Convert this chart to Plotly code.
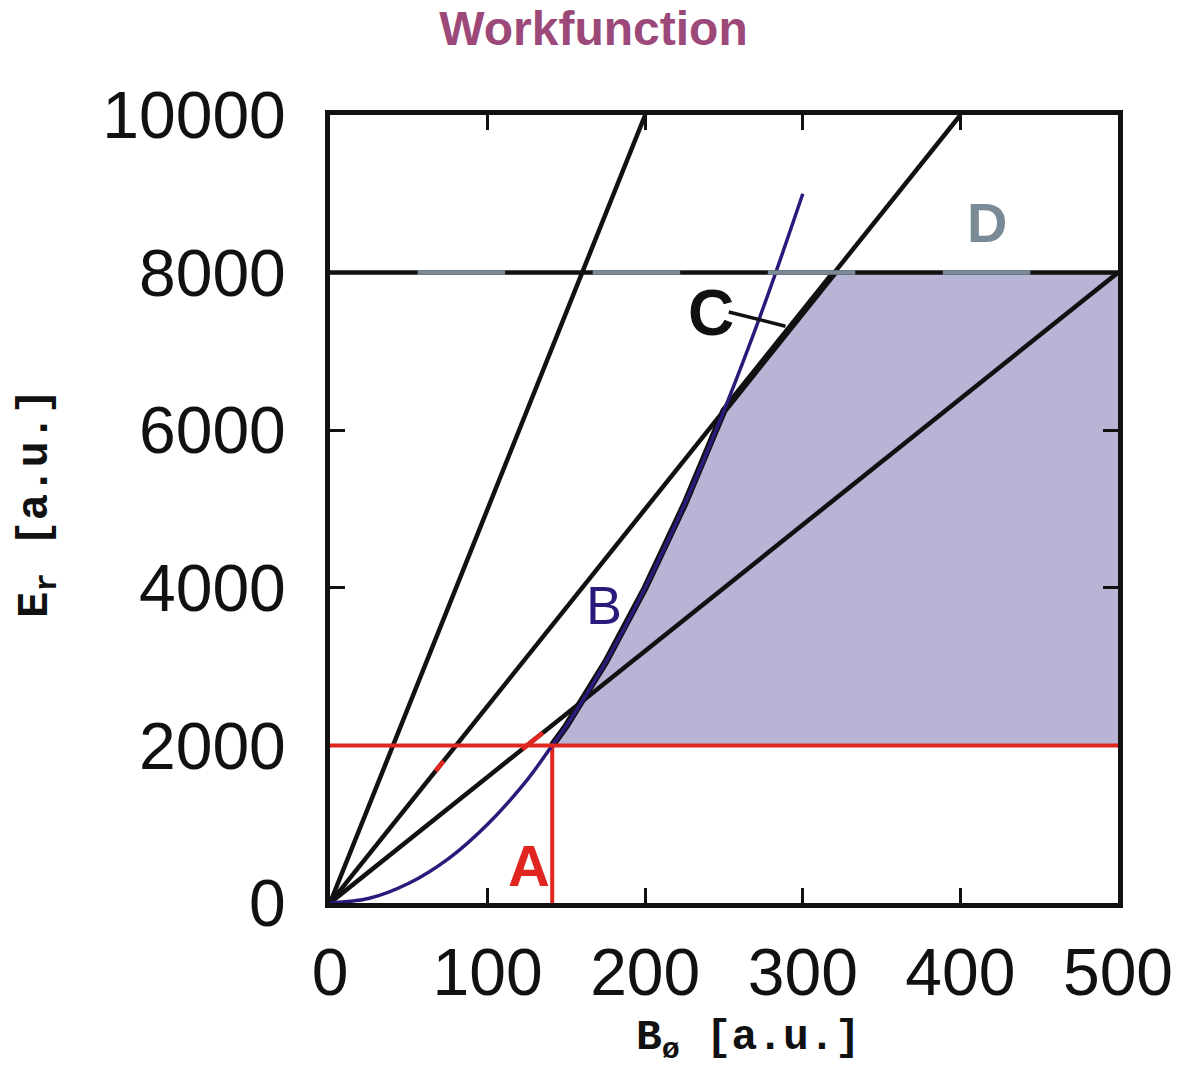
import plotly.graph_objects as go

# ---- data -------------------------------------------------------------
# straight lines through the origin, given by their end points
steep_B = [0, 200]
steep_E = [0, 10000]
mid_B = [0, 400]
mid_E = [0, 10000]
shallow_B = [0, 500]
shallow_E = [0, 8000]

# curve B
curve_B = [0, 25, 50, 75, 100, 125, 141, 150, 175, 200, 225, 250, 275, 300]
curve_E = [0, 60, 250, 560, 1000, 1560, 2000, 2250, 3060, 4000, 5060, 6250, 7560, 9000]

# limits
E_low = 2000          # line A (horizontal)
B_low = 141           # line A (vertical)
E_high = 8000         # line D
B_max = 500
B_mid_top = 320       # where the mid line meets line D

# gray pieces of line D
D_gray_start = [55.6, 166.7, 277.8, 388.9]
D_gray_end = [111.1, 222.2, 333.3, 444.4]

# small red pieces on the lines near line A
red_mark1_B = [67, 72]
red_mark1_E = [1675, 1800]
red_mark2_B = [122, 135]
red_mark2_E = [1950, 2160]

# label positions
labels = {
    "A": (126, 480),
    "B": (174, 3780),
    "C": (242, 7490),
    "D": (417, 8640),
}
C_pointer_B = [253, 289]
C_pointer_E = [7500, 7320]

x_ticks = [0, 100, 200, 300, 400, 500]
y_ticks = [0, 2000, 4000, 6000, 8000, 10000]

# ---- colours ----------------------------------------------------------
FILL = "#b8b4d6"
NAVY = "#2b1a7a"
RED = "#e0261f"
GRAY = "#7a8b97"
BLACK = "#111111"
TITLE = "#9c4878"
LW = 4.5

fig = go.Figure()

# shaded region: above line A, right of curve B, below the mid line and line D
idx = [i for i, b in enumerate(curve_B) if B_low <= b <= 250]
bnd_B = [curve_B[i] for i in idx] + [B_mid_top]
bnd_E = [curve_E[i] for i in idx] + [E_high]
poly_B = bnd_B + [B_max, B_max, B_low]
poly_E = bnd_E + [E_high, E_low, E_low]
fig.add_trace(go.Scatter(x=poly_B, y=poly_E, mode="lines", fill="toself",
                         fillcolor=FILL, line=dict(width=0), hoverinfo="skip"))

# line A (vertical part)
fig.add_trace(go.Scatter(x=[B_low, B_low], y=[0, E_low], mode="lines",
                         line=dict(color=RED, width=4)))

# straight lines
for bx, ey in [(steep_B, steep_E), (mid_B, mid_E), (shallow_B, shallow_E)]:
    fig.add_trace(go.Scatter(x=bx, y=ey, mode="lines",
                             line=dict(color=BLACK, width=LW)))

for bx, ey in [(red_mark1_B, red_mark1_E), (red_mark2_B, red_mark2_E)]:
    fig.add_trace(go.Scatter(x=bx, y=ey, mode="lines",
                             line=dict(color=RED, width=LW)))

# thick boundary of the region
fig.add_trace(go.Scatter(x=bnd_B, y=bnd_E, mode="lines",
                         line=dict(color=BLACK, width=7)))

# curve B
fig.add_trace(go.Scatter(x=curve_B, y=curve_E, mode="lines",
                         line=dict(color=NAVY, width=3.5, shape="spline")))

# line D
fig.add_trace(go.Scatter(x=[0, B_max], y=[E_high, E_high], mode="lines",
                         line=dict(color=BLACK, width=LW)))
for s, e in zip(D_gray_start, D_gray_end):
    fig.add_trace(go.Scatter(x=[s, e], y=[E_high, E_high], mode="lines",
                             line=dict(color=GRAY, width=LW)))

# pointer for label C
fig.add_trace(go.Scatter(x=C_pointer_B, y=C_pointer_E, mode="lines",
                         line=dict(color=BLACK, width=3.5)))

# line A (horizontal part) sits above the frame ticks
fig.add_shape(type="line", xref="x", yref="y", x0=0, x1=B_max, y0=E_low, y1=E_low,
              line=dict(color=RED, width=4), layer="above")

label_style = {
    "A": dict(color=RED, size=58, family="Liberation Sans", weight="bold"),
    "B": dict(color=NAVY, size=54, family="Liberation Sans"),
    "C": dict(color=BLACK, size=64, family="Liberation Sans", weight="bold"),
    "D": dict(color=GRAY, size=56, family="Liberation Sans", weight="bold"),
}
for name, (bx, ey) in labels.items():
    fig.add_annotation(x=bx, y=ey, text=name, showarrow=False,
                       font=label_style[name], xanchor="center", yanchor="middle")

# axis titles
fig.add_annotation(xref="paper", yref="paper", x=(748 - 330) / 788, y=(903 - 1040) / 788,
                   text="B<sub>ø</sub> [a.u.]", showarrow=False,
                   font=dict(family="Liberation Mono", size=43, color=BLACK, weight="bold"),
                   xanchor="center", yanchor="middle")
fig.add_annotation(xref="paper", yref="paper", x=(37 - 330) / 788, y=(903 - 503) / 788,
                   text="E<sub>r</sub> [a.u.]", showarrow=False, textangle=-90,
                   font=dict(family="Liberation Mono", size=44, color=BLACK, weight="bold"),
                   xanchor="center", yanchor="middle")

axis_common = dict(
    showgrid=False, zeroline=False, showline=True, linecolor=BLACK, linewidth=5,
    mirror="allticks", ticks="inside", ticklen=15, tickwidth=3, tickcolor=BLACK,
    tickfont=dict(family="Liberation Sans", size=66, color=BLACK),
)
fig.update_xaxes(range=[0, B_max], tickvals=x_ticks, ticktext=[str(v) for v in x_ticks],
                 ticklabelstandoff=8, **axis_common)
fig.update_yaxes(range=[0, 10000], tickvals=y_ticks, ticktext=[str(v) for v in y_ticks],
                 ticklabelstandoff=26, **axis_common)

fig.update_layout(
    width=1187, height=1077, showlegend=False,
    plot_bgcolor="white", paper_bgcolor="white",
    margin=dict(l=330, r=69, t=115, b=174),
    title=dict(text="Workfunction", x=0.5, xanchor="center", y=1 - 28 / 1077,
               yanchor="middle",
               font=dict(family="Liberation Sans", size=48, color=TITLE, weight="bold")),
)

fig.write_html("out.html")
